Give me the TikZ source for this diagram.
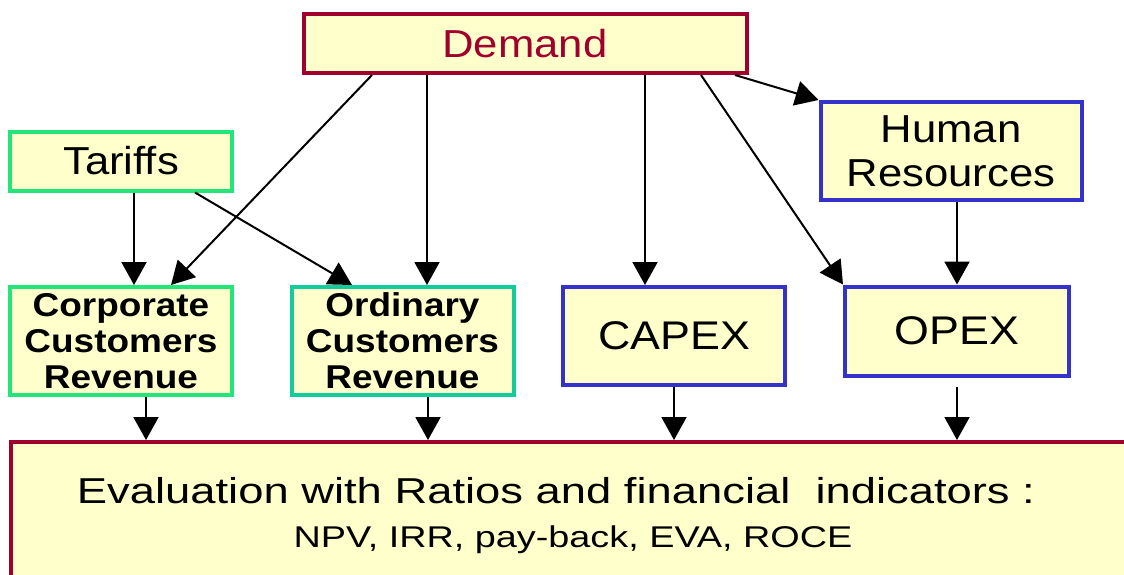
\documentclass[tikz,border=0pt]{standalone}
\usepackage{fontspec}
\setmainfont[FakeStretch=1.12]{Liberation Sans}
\newfontfamily\widefont[FakeStretch=1.26]{Liberation Sans}
\usetikzlibrary{arrows.meta,calc}
\definecolor{boxfill}{HTML}{FFFFCC}
\definecolor{demandred}{HTML}{A0002C}
\definecolor{tariffgreen}{HTML}{22E67A}
\definecolor{ordingreen}{HTML}{12CC9C}
\definecolor{costblue}{HTML}{3333CC}
\begin{document}
\begin{tikzpicture}[x=0.5pt,y=-0.5pt,>={Triangle[length=11.5pt,width=12.5pt]},
		box/.style={draw,line width=2pt,fill=boxfill,inner sep=0pt,align=center,font=\fontsize{19.5}{22}\selectfont},
		bbox/.style={box,font=\fontsize{16.5}{18}\selectfont\bfseries},
		arr/.style={->,line width=1pt}]
	\useasboundingbox (0,0) rectangle (1124,574);
	\clip (0,0) rectangle (1124,574);
	% boxes
	\node[box,draw=demandred,text=demandred,minimum width=221.5pt,minimum height=29.5pt] (demand) at (525,43.5) {Demand};
	\node[box,draw=tariffgreen,minimum width=111pt,minimum height=29.5pt] (tariffs) at (121,161) {Tariffs};
	\node[box,draw=costblue,minimum width=130.5pt,minimum height=49pt] (human) at (951,151) {Human\\Resources};
	\node[bbox,draw=tariffgreen,minimum width=111pt,minimum height=54pt] (corp) at (121,341) {Corporate\\Customers\\Revenue};
	\node[bbox,draw=ordingreen,minimum width=111pt,minimum height=54pt] (ordin) at (402.5,341) {Ordinary\\Customers\\Revenue};
	\node[box,draw=costblue,minimum width=111pt,minimum height=49pt,font=\fontsize{20}{22}\selectfont] (capex) at (674,336) {CAPEX};
	\node[box,draw=costblue,minimum width=112pt,minimum height=44.5pt,font=\fontsize{20}{22}\selectfont] (opex) at (957,331) {OPEX};
	\node[box,draw=demandred,minimum width=562pt,minimum height=74pt,font=\widefont\fontsize{18}{22}\selectfont] (evalbox) at (573,516)
		{Evaluation with Ratios and financial\ \ indicators :\hspace*{17pt}\\{\fontsize{15}{16}\selectfont NPV, IRR, pay-back, EVA, ROCE}};
	% arrows from the top
	\draw[arr] ($(demand.south)+(-153,0)$)--($(corp.north)+(50,0)$);
	\draw[arr] ($(demand.south)+(-98,0)$)--($(ordin.north)+(24.5,0)$);
	\draw[arr] ($(demand.south)+(120,0)$)--($(capex.north)+(-29,0)$);
	\draw[arr] ($(demand.south)+(176,0)$)--(opex.north west);
	\draw[arr] ($(demand.south)+(210,0)$)--(human.north west);
	\draw[arr] ($(tariffs.south)+(13,0)$)--($(corp.north)+(13,0)$);
	\draw[arr] ($(tariffs.south)+(74,0)$)--($(ordin.north)+(-50.5,0)$);
	\draw[arr] (opex.north |- human.south)--(opex.north);
	% arrows to the evaluation
	\coordinate (c1) at ($(corp.south)+(25,0)$);
	\coordinate (c2) at ($(ordin.south)+(25.5,0)$);
	\draw[arr] (c1)--(c1 |- evalbox.north);
	\draw[arr] (c2)--(c2 |- evalbox.north);
	\draw[arr] (capex.south)--(capex.south |- evalbox.north);
	\draw[arr,shorten <=4.5pt] (opex.south)--(opex.south |- evalbox.north);
\end{tikzpicture}
\end{document}
